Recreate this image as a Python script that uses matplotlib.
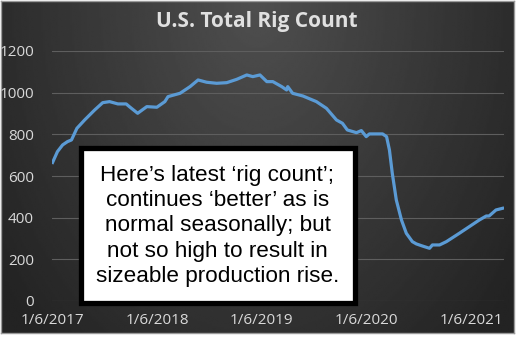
import numpy as np
import pandas as pd
import matplotlib
matplotlib.use('Agg')
import matplotlib.pyplot as plt
from matplotlib.patches import Rectangle

# 字体设置
plt.rcParams['font.family'] = ['Liberation Sans', 'DejaVu Sans']

# 数据：美国钻机数
dates = ['2017-01-06', '2017-01-23', '2017-02-10', '2017-02-27', '2017-03-13', '2017-04-01',
         '2017-04-28', '2017-06-02', '2017-06-30', '2017-07-24', '2017-08-22', '2017-09-20',
         '2017-10-01', '2017-10-30', '2017-12-01', '2018-01-05', '2018-02-02', '2018-02-13',
         '2018-03-27', '2018-05-01', '2018-05-29', '2018-06-28', '2018-08-02', '2018-09-06',
         '2018-10-11', '2018-11-15', '2018-12-06', '2018-12-31', '2019-01-24', '2019-02-14',
         '2019-03-17', '2019-04-03', '2019-04-07', '2019-04-24', '2019-05-30', '2019-07-16',
         '2019-08-20', '2019-09-24', '2019-10-15', '2019-11-01', '2019-12-03', '2019-12-20',
         '2020-01-06', '2020-01-17', '2020-03-03', '2020-03-17', '2020-03-27', '2020-04-06',
         '2020-04-20', '2020-05-08', '2020-05-25', '2020-06-15', '2020-06-29', '2020-07-20',
         '2020-08-14', '2020-08-24', '2020-09-18', '2020-10-12', '2020-11-26', '2020-12-31',
         '2021-02-04', '2021-02-28', '2021-03-10', '2021-04-03', '2021-04-26']
rig_count = [665, 717, 749, 765, 773, 829,
             869, 917, 952, 957, 946, 946,
             933, 901, 933, 930, 957, 981,
             997, 1029, 1061, 1050, 1045, 1048,
             1064, 1085, 1077, 1085, 1053, 1053,
             1029, 1013, 1029, 997, 984, 957,
             925, 869, 853, 821, 808, 818,
             789, 802, 802, 789, 725, 613,
             485, 389, 325, 285, 274, 264,
             253, 269, 269, 285, 325, 357,
             389, 408, 408, 437, 445]
tick_dates = ['2017-01-06', '2018-01-06', '2019-01-06', '2020-01-06', '2021-01-06']
tick_labels = ['1/6/2017', '1/6/2018', '1/6/2019', '1/6/2020', '1/6/2021']
y_ticks = [0, 200, 400, 600, 800, 1000, 1200]

title = 'U.S. Total Rig Count'
note = ('Here\u2019s latest \u2018rig count\u2019;\n'
        'continues \u2018better\u2019 as is\n'
        'normal seasonally; but\n'
        'not so high to result in\n'
        'sizeable production rise.')

W, H = 517, 354
fig = plt.figure(figsize=(W / 100, H / 100), dpi=100, facecolor='white')

# 背景面板（深色径向渐变）
bg = fig.add_axes([1 / W, (H - 333) / H, 513 / W, 332 / H])
gx, gy = np.meshgrid(np.linspace(-1, 1, 300), np.linspace(0, 1, 200))
r = np.sqrt(gx ** 2 + ((1 - gy) * 0.9) ** 2)
shade = 0.31 - 0.17 * np.clip(r / 1.25, 0, 1)
bg.imshow(shade, cmap='gray', vmin=0, vmax=1, origin='lower', aspect='auto',
          extent=[0, 1, 0, 1], interpolation='bilinear')
bg.set_xticks([])
bg.set_yticks([])
for s in bg.spines.values():
    s.set_color('#9a9a9a')
    s.set_linewidth(1.0)

# 主图
ax = fig.add_axes([52 / W, (H - 301) / H, 452 / W, 250 / H])
ax.patch.set_alpha(0)
x = pd.to_datetime(dates)
ax.plot(x, rig_count, color='#5B9BD5', linewidth=2.3, solid_joinstyle='round', zorder=3)

ax.set_ylim(0, 1200)
ax.set_yticks(y_ticks)
ax.set_xlim(pd.Timestamp('2017-01-04'), pd.Timestamp('2021-05-01'))
ax.set_xticks(pd.to_datetime(tick_dates))
ax.set_xticklabels(tick_labels)
ax.tick_params(axis='both', length=0, colors='#d9d9d9', labelsize=11)
ax.tick_params(axis='y', pad=13)
ax.tick_params(axis='x', pad=9)
for lab in ax.get_xticklabels() + ax.get_yticklabels():
    lab.set_family(['Open Sans', 'DejaVu Sans'])
ax.grid(axis='y', color='#5e5e5e', linewidth=0.8)
ax.set_axisbelow(True)
for s in ax.spines.values():
    s.set_visible(False)

# 标题
fig.text(257 / W, (H - 22) / H, title, ha='center', va='center', color='#e0e0e0',
         fontsize=15, fontweight='bold', family=['Open Sans', 'DejaVu Sans'])

# 注释文本框
box = Rectangle((80.5 / W, (H - 302.5) / H), 274 / W, 155 / H, transform=fig.transFigure,
                facecolor='white', edgecolor='black', linewidth=3.8, zorder=5)
fig.patches.append(box)
fig.text(217.5 / W, (H - 226) / H, note, ha='center', va='center', color='black',
         fontsize=16.2, linespacing=1.26, zorder=6)

plt.savefig('out.png', dpi=100)
plt.close()
